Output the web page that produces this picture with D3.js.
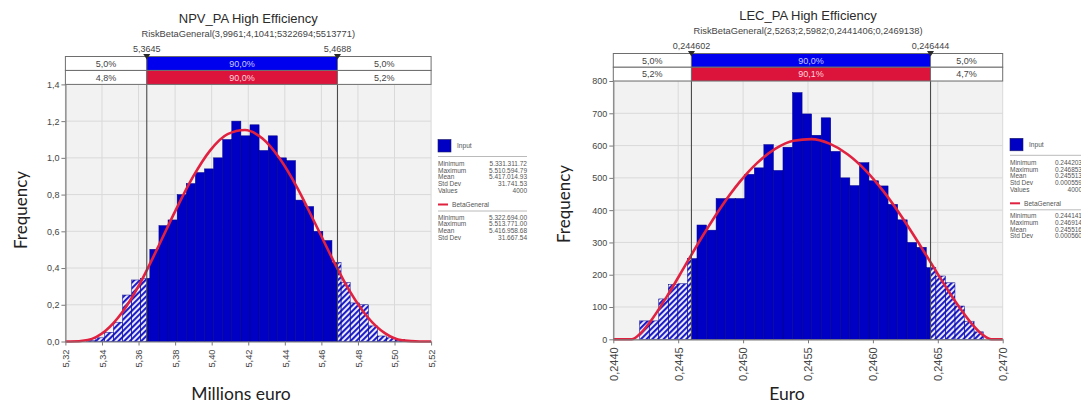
<!DOCTYPE html>
<html>
<head>
<meta charset="utf-8">
<script src="https://cdn.jsdelivr.net/npm/d3@7"></script>
<style>
  body { margin: 0; background: #fff; }
  svg { display: block; }
  text { font-family: "Liberation Sans", Arial, sans-serif; }
  .axis-title { font-family: Lato, "Open Sans", sans-serif; }
</style>
</head>
<body>
<svg id="chart" width="1081" height="406"></svg>
<script>
// ---------- NPV_PA High Efficiency (millions euro) ----------
const npvTitle = "NPV_PA High Efficiency";
const npvSubtitle = "RiskBetaGeneral(3,9961;4,1041;5322694;5513771)";
const npvBinStart = 5.331312;
const npvBinEnd = 5.510595;
const npvHeights = [0.005, 0.02, 0.05, 0.105, 0.253, 0.335, 0.344, 0.502, 0.631, 0.662,
                    0.80, 0.86, 0.92, 0.94, 1.00, 1.10, 1.20, 1.12, 1.18, 1.04,
                    1.12, 1.00, 0.985, 0.77, 0.735, 0.60, 0.55, 0.43, 0.32, 0.21,
                    0.20, 0.085, 0.03, 0.02, 0.01, 0.005];
const npvCurveX = [5.3200, 5.3227, 5.3322, 5.3418, 5.3513, 5.3609, 5.3704, 5.3800, 5.3896, 5.3991,
                   5.4087, 5.4182, 5.4278, 5.4373, 5.4469, 5.4564, 5.4660, 5.4755, 5.4851, 5.4947,
                   5.5042, 5.5138, 5.5200];
const npvCurveY = [0, 0, 0.0085, 0.0575, 0.1622, 0.3182, 0.5082, 0.7084, 0.8932, 1.0394,
                   1.1291, 1.1517, 1.1049, 0.9948, 0.8354, 0.6464, 0.4513, 0.2739, 0.1347, 0.0453,
                   0.0062, 0, 0];
const npvXTicks = [5.32, 5.34, 5.36, 5.38, 5.40, 5.42, 5.44, 5.46, 5.48, 5.50, 5.52];
const npvYTicks = [0, 0.2, 0.4, 0.6, 0.8, 1.0, 1.2, 1.4];
const npvMarkers = [5.3645, 5.4688];
const npvMarkerLabels = ["5,3645", "5,4688"];
const npvInputShares = ["5,0%", "90,0%", "5,0%"];
const npvFitShares = ["4,8%", "90,0%", "5,2%"];
const npvInputStats = [["Minimum", "5.331.311.72"], ["Maximum", "5.510.594.79"], ["Mean", "5.417.014.93"],
                       ["Std Dev", "31.741.53"], ["Values", "4000"]];
const npvFitStats = [["Minimum", "5.322.694.00"], ["Maximum", "5.513.771.00"], ["Mean", "5.416.958.68"],
                     ["Std Dev", "31.667.54"]];

// ---------- LEC_PA High Efficiency (euro) ----------
const lecTitle = "LEC_PA High Efficiency";
const lecSubtitle = "RiskBetaGeneral(2,5263;2,5982;0,2441406;0,2469138)";
const lecBinStart = 0.244203;
const lecBinEnd = 0.246853;
const lecHeights = [57, 57, 125, 170, 172, 250, 354, 338, 436, 436,
                    436, 511, 531, 603, 523, 595, 764, 698, 632, 686,
                    582, 500, 476, 547, 491, 475, 418, 370, 300, 285,
                    222, 196, 175, 103, 56, 23];
const lecCurveX = [0.2440, 0.2441406, 0.2442099, 0.2442793, 0.2444179, 0.2445566, 0.2446952, 0.2448339,
                   0.2449726, 0.2451112, 0.2452499, 0.2453885, 0.2455272, 0.2456659, 0.2458045, 0.2459432,
                   0.2460818, 0.2462205, 0.2463592, 0.2464978, 0.2466365, 0.2467751, 0.2468445, 0.2469138, 0.2470];
const lecCurveY = [0, 0, 18.6, 51.5, 136.0, 230.5, 324.6, 411.6,
                   486.8, 547.2, 590.3, 614.8, 620.1, 606.0, 573.3, 523.4,
                   458.1, 380.3, 293.8, 203.5, 116.1, 41.7, 14.3, 0, 0];
const lecXTicks = [0.2440, 0.2445, 0.2450, 0.2455, 0.2460, 0.2465, 0.2470];
const lecYTicks = [0, 100, 200, 300, 400, 500, 600, 700, 800];
const lecMarkers = [0.244602, 0.246444];
const lecMarkerLabels = ["0,244602", "0,246444"];
const lecInputShares = ["5,0%", "90,0%", "5,0%"];
const lecFitShares = ["5,2%", "90,1%", "4,7%"];
const lecInputStats = [["Minimum", "0.244203"], ["Maximum", "0.246853"], ["Mean", "0.245513"],
                       ["Std Dev", "0.000559"], ["Values", "4000"]];
const lecFitStats = [["Minimum", "0.244141"], ["Maximum", "0.246914"], ["Mean", "0.245516"],
                     ["Std Dev", "0.000560"]];

const legendNames = ["Input", "BetaGeneral"];

// ---------- drawing ----------
const locale = d3.formatLocale({ decimal: ",", thousands: ".", grouping: [3], currency: ["", ""] });
const svg = d3.select("#chart");

const COLORS = {
  plotBg: "#f2f2f2", grid: "#d9d9d9", axis: "#7a7a7a", tickText: "#454545",
  bar: "#0000c4", barEdge: "#00008a", hatch: "#1c1cc8",
  fit: "#e0213f", cellBlue: "#0000ee", cellRed: "#dc143c", cellBorder: "#6e6e6e",
  marker: "#4a4a4a", text: "#333"
};

const defs = svg.append("defs");
const hatch = defs.append("pattern")
  .attr("id", "hatch").attr("patternUnits", "userSpaceOnUse")
  .attr("width", 4).attr("height", 4)
  .attr("patternTransform", "rotate(45)");
hatch.append("rect").attr("width", 4).attr("height", 4).attr("fill", "#f4f4ff");
hatch.append("line").attr("x1", 1).attr("x2", 1).attr("y1", 0).attr("y2", 4)
  .attr("stroke", COLORS.hatch).attr("stroke-width", 2.2);

function drawPanel(p) {
  const g = svg.append("g");
  const x = d3.scaleLinear().domain([p.xTicks[0], p.xTicks[p.xTicks.length - 1]]).range([p.left, p.right]);
  const y = d3.scaleLinear().domain([p.yTicks[0], p.yTicks[p.yTicks.length - 1]]).range([p.bottom, p.top]);

  // plot background and grid
  g.append("rect").attr("x", p.left).attr("y", p.top)
    .attr("width", p.right - p.left).attr("height", p.bottom - p.top).attr("fill", COLORS.plotBg);
  g.selectAll(null).data(p.xTicks).join("line")
    .attr("x1", d => x(d)).attr("x2", d => x(d)).attr("y1", p.top).attr("y2", p.bottom)
    .attr("stroke", COLORS.grid).attr("stroke-width", 1);
  g.selectAll(null).data(p.yTicks).join("line")
    .attr("x1", p.left).attr("x2", p.right).attr("y1", d => y(d)).attr("y2", d => y(d))
    .attr("stroke", COLORS.grid).attr("stroke-width", 1);

  // histogram bins, split at the two markers (tails hatched)
  const n = p.heights.length;
  const w = (p.binEnd - p.binStart) / n;
  const [m1, m2] = p.markers;
  const bins = p.heights.map((h, i) => ({ a: p.binStart + i * w, b: p.binStart + (i + 1) * w, h }));
  const pieces = [];
  bins.forEach(({ a, b, h }) => {
    if (a < m1) pieces.push({ a, b: Math.min(b, m1), h, tail: true });
    if (b > m1 && a < m2) pieces.push({ a: Math.max(a, m1), b: Math.min(b, m2), h, tail: false });
    if (b > m2) pieces.push({ a: Math.max(a, m2), b, h, tail: true });
  });
  g.selectAll(null).data(pieces).join("rect")
    .attr("x", d => x(d.a)).attr("width", d => x(d.b) - x(d.a))
    .attr("y", d => y(d.h)).attr("height", d => y(0) - y(d.h))
    .attr("fill", d => d.tail ? "url(#hatch)" : COLORS.bar);
  g.selectAll(null).data(bins).join("rect")
    .attr("x", d => x(d.a)).attr("width", d => x(d.b) - x(d.a))
    .attr("y", d => y(d.h)).attr("height", d => y(0) - y(d.h))
    .attr("fill", "none").attr("stroke", COLORS.barEdge).attr("stroke-width", 0.5);

  // fitted distribution
  const pts = p.curveX.map((cx, i) => [cx, p.curveY[i]]);
  g.append("path").datum(pts)
    .attr("d", d3.line().x(d => x(d[0])).y(d => y(d[1])).curve(d3.curveMonotoneX))
    .attr("fill", "none").attr("stroke", COLORS.fit).attr("stroke-width", 2.6)
    .attr("stroke-linejoin", "round");

  // axes
  const yAxis = g.append("g").attr("transform", `translate(${p.left},0)`)
    .call(d3.axisLeft(y).tickValues(p.yTicks).tickFormat(p.yFmt).tickSize(4).tickSizeOuter(0));
  const xAxis = g.append("g").attr("transform", `translate(0,${p.bottom})`)
    .call(d3.axisBottom(x).tickValues(p.xTicks).tickFormat(p.xFmt).tickSize(4).tickSizeOuter(0));
  [yAxis, xAxis].forEach(ax => {
    ax.select(".domain").attr("stroke", COLORS.axis).attr("stroke-width", 1.2);
    ax.selectAll(".tick line").attr("stroke", COLORS.axis);
    ax.selectAll(".tick text").attr("fill", COLORS.tickText)
      .style("font-family", "'Liberation Sans', Arial, sans-serif");
  });
  yAxis.selectAll(".tick text").style("font-size", p.yTickSize + "px").attr("x", -6);
  xAxis.selectAll(".tick text").style("font-size", p.xTickSize + "px")
    .attr("transform", "rotate(-90)").attr("x", -8).attr("y", 0).attr("dy", "0.35em")
    .style("text-anchor", "end");

  // marker lines
  g.selectAll(null).data(p.markers).join("line")
    .attr("x1", d => x(d)).attr("x2", d => x(d)).attr("y1", p.headTop).attr("y2", p.bottom)
    .attr("stroke", COLORS.marker).attr("stroke-width", 1.1);

  // percentile header (input row, fitted row)
  const rowH = (p.top - p.headTop) / 2;
  const edges = [p.left, x(m1), x(m2), p.right];
  [[p.inputShares, COLORS.cellBlue, "#c9c9ff"], [p.fitShares, COLORS.cellRed, "#ffd3da"]].forEach(([shares, fill, mid], r) => {
    const ry = p.headTop + r * rowH;
    shares.forEach((s, i) => {
      g.append("rect").attr("x", edges[i]).attr("y", ry)
        .attr("width", edges[i + 1] - edges[i]).attr("height", rowH)
        .attr("fill", i === 1 ? fill : "#fff")
        .attr("stroke", COLORS.cellBorder).attr("stroke-width", 1);
      g.append("text").attr("x", (edges[i] + edges[i + 1]) / 2).attr("y", ry + rowH / 2 + 3.3)
        .attr("text-anchor", "middle").style("font-size", "9px")
        .attr("fill", i === 1 ? mid : "#444").text(s);
    });
  });
  p.markers.forEach((m, i) => {
    const mx = x(m);
    g.append("path").attr("d", `M${mx - 3.5},${p.headTop - 2.5}L${mx + 3.5},${p.headTop - 2.5}L${mx},${p.headTop + 3}Z`)
      .attr("fill", "#2a2a2a");
    g.append("text").attr("x", mx).attr("y", p.headTop - 5)
      .attr("text-anchor", "middle").style("font-size", "9px").attr("fill", "#444")
      .text(p.markerLabels[i]);
  });

  // titles
  const cx = (p.left + p.right) / 2;
  g.append("text").attr("x", cx).attr("y", p.titleY).attr("text-anchor", "middle")
    .style("font-size", "13px").attr("fill", "#2b2b2b").text(p.title);
  g.append("text").attr("x", cx).attr("y", p.titleY + 14).attr("text-anchor", "middle")
    .style("font-size", "9.3px").attr("fill", "#444").text(p.subtitle);
  g.append("text").attr("class", "axis-title")
    .attr("transform", `translate(${p.yTitleX},${p.yTitleY}) rotate(-90)`)
    .attr("text-anchor", "middle").style("font-size", "17px").attr("fill", "#222").text("Frequency");
  g.append("text").attr("class", "axis-title").attr("x", p.xTitleX).attr("y", 400)
    .attr("text-anchor", "middle").style("font-size", "17.5px").attr("fill", "#222").text(p.xTitle);

  // legend with statistics
  const lx = p.legendX, ly = p.legendY;
  g.append("rect").attr("x", lx).attr("y", ly).attr("width", 13).attr("height", 12.5)
    .attr("fill", COLORS.bar).attr("stroke", "#202060").attr("stroke-width", 0.6);
  g.append("text").attr("x", lx + 19).attr("y", ly + 8.5).style("font-size", "6.6px")
    .attr("fill", "#555").text(legendNames[0]);
  g.append("line").attr("x1", lx).attr("x2", p.legendRight).attr("y1", ly + 17).attr("y2", ly + 17)
    .attr("stroke", "#a8a8a8").attr("stroke-width", 0.8);
  p.inputStats.forEach(([k, v], i) => {
    const ty = ly + 26.5 + i * 6.7;
    g.append("text").attr("x", lx).attr("y", ty).style("font-size", "6.5px").attr("fill", "#555").text(k);
    g.append("text").attr("x", p.valueRight).attr("y", ty).attr("text-anchor", "end")
      .style("font-size", "6.5px").attr("fill", "#555").text(v);
  });
  g.append("line").attr("x1", lx).attr("x2", lx + 10).attr("y1", ly + 65).attr("y2", ly + 65)
    .attr("stroke", COLORS.fit).attr("stroke-width", 2);
  g.append("text").attr("x", lx + 14).attr("y", ly + 67.3).style("font-size", "6.6px")
    .attr("fill", "#555").text(legendNames[1]);
  g.append("line").attr("x1", lx).attr("x2", p.legendRight).attr("y1", ly + 71.5).attr("y2", ly + 71.5)
    .attr("stroke", "#a8a8a8").attr("stroke-width", 0.8);
  p.fitStats.forEach(([k, v], i) => {
    const ty = ly + 80 + i * 6.7;
    g.append("text").attr("x", lx).attr("y", ty).style("font-size", "6.5px").attr("fill", "#555").text(k);
    g.append("text").attr("x", p.valueRight).attr("y", ty).attr("text-anchor", "end")
      .style("font-size", "6.5px").attr("fill", "#555").text(v);
  });
}

drawPanel({
  title: npvTitle, subtitle: npvSubtitle, xTitle: "Millions euro",
  binStart: npvBinStart, binEnd: npvBinEnd, heights: npvHeights,
  curveX: npvCurveX, curveY: npvCurveY,
  xTicks: npvXTicks, yTicks: npvYTicks, markers: npvMarkers, markerLabels: npvMarkerLabels,
  inputShares: npvInputShares, fitShares: npvFitShares,
  inputStats: npvInputStats, fitStats: npvFitStats,
  xFmt: locale.format(".2f"), yFmt: locale.format(".1f"),
  left: 65.4, right: 431.1, top: 84.4, bottom: 341.5, headTop: 56.5,
  titleY: 22.5, yTitleX: 27, yTitleY: 210, xTitleX: 241,
  xTickSize: 9.3, yTickSize: 9,
  legendX: 438, legendY: 139.5, legendRight: 527, valueRight: 527
});

drawPanel({
  title: lecTitle, subtitle: lecSubtitle, xTitle: "Euro",
  binStart: lecBinStart, binEnd: lecBinEnd, heights: lecHeights,
  curveX: lecCurveX, curveY: lecCurveY,
  xTicks: lecXTicks, yTicks: lecYTicks, markers: lecMarkers, markerLabels: lecMarkerLabels,
  inputShares: lecInputShares, fitShares: lecFitShares,
  inputStats: lecInputStats, fitStats: lecFitStats,
  xFmt: locale.format(".4f"), yFmt: locale.format("d"),
  left: 613.3, right: 1002.7, top: 81, bottom: 339.3, headTop: 53.5,
  titleY: 19.8, yTitleX: 570, yTitleY: 204, xTitleX: 787,
  xTickSize: 11, yTickSize: 9,
  legendX: 1010, legendY: 138.3, legendRight: 1090, valueRight: 1082
});
</script>
</body>
</html>
